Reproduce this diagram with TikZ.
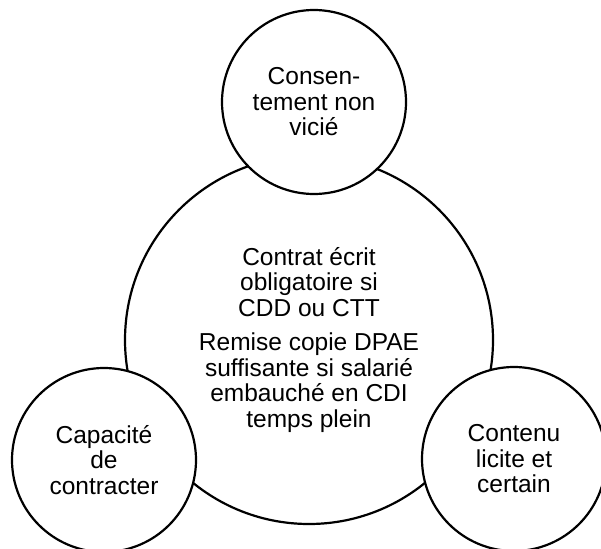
\documentclass[tikz,border=0pt]{standalone}
\usepackage{fontspec}
\setmainfont{Liberation Sans}

\begin{document}
\begin{tikzpicture}[x=1pt, y=-1pt,
   bubble/.style={circle, draw, line width=2.2pt, align=center, inner sep=0pt,
      font=\fontsize{24.5}{25.5}\selectfont},
   smallbubble/.style={bubble, fill=white, minimum size=184pt}]
   \useasboundingbox (0,0) rectangle (601,548);
   % central circle
   \node[bubble, minimum size=368pt] (contrat) at (309,340)
      {Contrat écrit\\obligatoire si\\CDD ou CTT\\[9pt]Remise copie DPAE\\suffisante si salarié\\embauché en CDI\\temps plein};
   % the three conditions, drawn on top
   \node[smallbubble] (consent) at (314,102) {Consen-\\tement non\\vicié};
   \node[smallbubble] (capacite) at (104,460) {Capacité\\de\\contracter};
   \node[smallbubble] (contenu) at (514,459) {Contenu\\licite et\\certain};
\end{tikzpicture}
\end{document}
